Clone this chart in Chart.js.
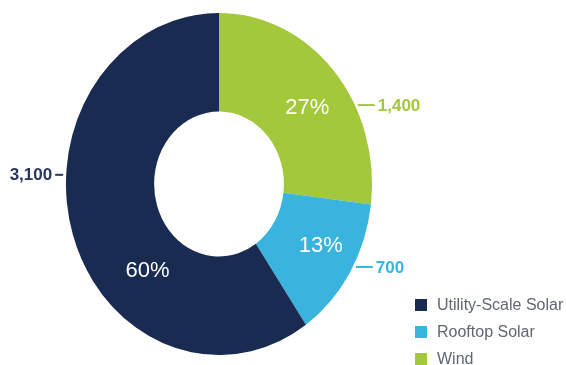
<!DOCTYPE html>
<html>
<head>
<meta charset="utf-8">
<script src="https://cdn.jsdelivr.net/npm/chart.js@4.4.1/dist/chart.umd.min.js"></script>
<style>
    html, body { margin: 0; padding: 0; background: #fff; }
    #wrap { width: 566px; height: 365px; }
</style>
</head>
<body>
<div id="wrap"><canvas id="graficoRosca" width="566" height="365"></canvas></div>
<script>
// dados (ordem horária a partir do topo)
const categorias = ['Wind', 'Rooftop Solar', 'Utility-Scale Solar'];
const valores = [1400, 700, 3100];
const ordemLegenda = [2, 1, 0];

const cores = ['#a3c83b', '#38b4df', '#1a2b51'];
const coresValor = ['#a3c83b', '#38b4df', '#26365f'];

// a rosca original é achatada na horizontal
const ESCALA_X = 0.895;
const FONTE = '"Liberation Sans", Arial, sans-serif';

const total = valores.reduce((a, b) => a + b, 0);
const percentuais = valores.map(v => Math.round(v / total * 100) + '%');
const rotulosValor = valores.map(v => v.toLocaleString('en-US'));

function ponto(arco, ang, r) {
    return {
        x: arco.x + ESCALA_X * r * Math.cos(ang),
        y: arco.y + r * Math.sin(ang)
    };
}

const pluginRosca = {
    id: 'roscaRotulos',
    beforeDatasetsDraw(chart) {
        const arco = chart.getDatasetMeta(0).data[0];
        const ctx = chart.ctx;
        ctx.save();
        ctx.translate(arco.x, 0);
        ctx.scale(ESCALA_X, 1);
        ctx.translate(-arco.x, 0);
    },
    afterDatasetsDraw(chart, args, opts) {
        const ctx = chart.ctx;
        ctx.restore();
        const arcos = chart.getDatasetMeta(0).data;

        arcos.forEach((arco, i) => {
            const { startAngle, endAngle, innerRadius, outerRadius } = arco;

            // percentual dentro do anel
            const angP = startAngle + (endAngle - startAngle) * opts.fracPercentual[i];
            const rP = innerRadius + (outerRadius - innerRadius) * opts.fracRaio[i];
            const p = ponto(arco, angP, rP);
            ctx.save();
            ctx.fillStyle = '#ffffff';
            ctx.font = '22px ' + FONTE;
            ctx.textAlign = 'center';
            ctx.textBaseline = 'middle';
            ctx.fillText(percentuais[i], p.x, p.y);

            // valor com linha guia
            const angV = startAngle + (endAngle - startAngle) * opts.fracValor[i];
            const b = ponto(arco, angV, outerRadius);
            const lado = b.x >= arco.x ? 1 : -1;
            const comp = lado > 0 ? 17 : 8;
            const x0 = b.x + lado * 3;
            const x1 = x0 + lado * comp;
            ctx.strokeStyle = coresValor[i];
            ctx.lineWidth = 2;
            ctx.beginPath();
            ctx.moveTo(x0, b.y);
            ctx.lineTo(x1, b.y);
            ctx.stroke();
            ctx.fillStyle = coresValor[i];
            ctx.font = 'bold 17px ' + FONTE;
            ctx.textAlign = lado > 0 ? 'left' : 'right';
            ctx.fillText(rotulosValor[i], x1 + lado * 3, b.y + 1);
            ctx.restore();
        });

        // legenda
        ctx.save();
        ctx.font = '16px ' + FONTE;
        ctx.textBaseline = 'middle';
        ctx.textAlign = 'left';
        ordemLegenda.forEach((idx, k) => {
            const y = 305 + k * 27;
            ctx.fillStyle = cores[idx];
            ctx.fillRect(415, y - 6, 12, 12);
            ctx.fillStyle = '#5f6675';
            ctx.fillText(categorias[idx], 437, y + 1);
        });
        ctx.restore();
    }
};

document.addEventListener('DOMContentLoaded', () => {
    const ctx = document.getElementById('graficoRosca').getContext('2d');
    window.graficoRosca = new Chart(ctx, {
        type: 'doughnut',
        data: {
            labels: categorias,
            datasets: [{
                data: valores,
                backgroundColor: cores,
                borderWidth: 0,
                hoverOffset: 0
            }]
        },
        options: {
            responsive: false,
            devicePixelRatio: 1,
            animation: false,
            cutout: '42.4%',
            layout: {
                padding: { top: 13, bottom: 10, left: 20, right: 148 }
            },
            plugins: {
                legend: { display: false },
                tooltip: { enabled: false },
                roscaRotulos: {
                    fracPercentual: [0.54, 0.45, 0.36],
                    fracRaio: [0.53, 0.58, 0.46],
                    fracValor: [0.645, 0.456, 0.595]
                }
            }
        },
        plugins: [pluginRosca]
    });
});
</script>
</body>
</html>
